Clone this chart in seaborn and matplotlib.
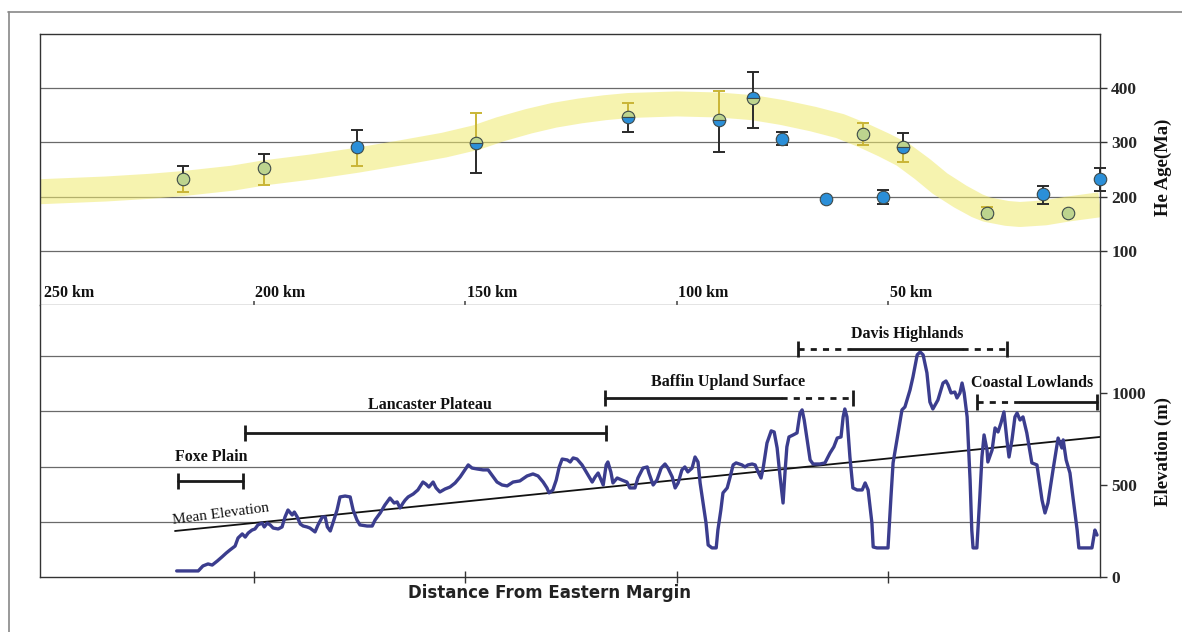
import matplotlib
matplotlib.use("Agg")
import matplotlib.pyplot as plt
from matplotlib.lines import Line2D
import pandas as pd
import seaborn as sns

# ---------------- data ----------------
# He ages (upper panel)
age_km = [216.7, 197.5, 175.6, 147.4, 111.5, 90.0, 82.0, 75.1, 64.7, 56.0, 51.3, 46.6, 26.7, 13.5, 7.6, 0.0]
age_ma = [233, 252, 291, 298, 346, 341, 381, 307, 196, 315, 200, 291, 170, 204, 170, 233]
age_hi = [256, 278, 322, 354, 372, 394, 430, 319, 196, 335, 213, 317, 180, 219, 170, 252]
age_lo = [209, 222, 257, 244, 319, 283, 326, 296, 196, 296, 187, 263, 161, 187, 170, 211]
age_kind = ['g', 'g', 'b', 'gb', 'gb', 'gb', 'bg', 'b', 'b', 'g', 'b', 'gb', 'g', 'b', 'g', 'b']
err_up_col = ['k', 'k', 'k', 'y', 'y', 'y', 'k', 'k', 'k', 'y', 'k', 'k', 'y', 'k', 'k', 'k']
err_lo_col = ['y', 'y', 'y', 'k', 'k', 'k', 'k', 'k', 'k', 'y', 'k', 'y', 'y', 'k', 'k', 'k']

# yellow trend band (centre line)
band_km = [250.5, 235.0, 224.5, 216.7, 205.0, 197.3, 186.0, 175.6, 165.0, 155.0, 147.4, 141.8,
           135.0, 129.0, 122.9, 117.0, 111.5, 100.0, 90.0, 82.0, 75.0, 67.8, 61.4, 56.0,
           51.0, 46.5, 42.0, 37.8, 33.0, 29.0, 26.7, 22.0, 18.9, 13.0, 7.6, 0.0]
band_ma = [209, 214, 219, 224, 234, 244, 255, 267, 281, 295, 309, 324,
           339, 350, 358, 364, 368, 371, 369, 364, 355, 343, 330, 313,
           295, 277, 251, 224, 200, 183, 176, 169, 167, 170, 177, 185]

# elevation profile (lower panel)
prof_km = [218.2, 213.1, 212.0, 210.8, 209.8, 208.6, 207.5, 206.5, 205.6, 204.4,
           203.7, 202.7, 202.0, 201.3, 200.4, 199.7, 199.0, 198.0, 197.5, 196.8,
           196.1, 195.4, 194.2, 193.3, 192.6, 191.9, 190.9, 190.4, 189.7, 189.0,
           188.3, 187.4, 186.7, 185.5, 184.8, 183.8, 183.1, 182.6, 181.9, 181.2,
           180.3, 179.6, 178.4, 177.2, 176.5, 175.6, 174.9, 173.2, 172.0, 171.3,
           170.1, 169.0, 167.8, 166.8, 166.1, 165.4, 164.7, 164.2, 163.5, 162.3,
           161.2, 160.0, 159.3, 158.6, 157.6, 156.9, 156.0, 154.8, 153.6, 152.4,
           151.2, 150.1, 149.3, 148.4, 147.2, 145.8, 144.6, 143.7, 142.5, 141.3,
           140.1, 138.7, 137.1, 135.4, 134.0, 132.8, 131.6, 130.7, 130.2, 129.3,
           128.5, 127.8, 127.1, 125.9, 125.2, 124.5, 123.6, 122.4, 121.7, 121.0,
           120.0, 119.3, 118.6, 117.9, 117.4, 116.7, 116.3, 115.6, 115.1, 114.1,
           113.0, 111.8, 111.1, 109.9, 109.2, 108.0, 107.0, 106.6, 105.6, 104.7,
           103.7, 102.8, 102.1, 101.1, 100.4, 99.7, 98.8, 98.1, 97.4, 96.4,
           95.7, 95.0, 94.5, 93.8, 93.1, 92.6, 91.7, 90.7, 90.3, 89.6,
           89.1, 88.1, 87.4, 86.7, 86.0, 84.6, 83.9, 83.2, 82.2, 81.5,
           80.8, 80.1, 79.6, 78.7, 77.7, 77.0, 76.3, 75.6, 74.9, 74.4,
           74.0, 73.5, 72.5, 71.6, 70.9, 70.4, 69.9, 69.2, 68.5, 67.8,
           66.2, 65.0, 63.8, 62.9, 62.1, 61.2, 60.7, 60.3, 59.8, 59.1,
           58.4, 57.4, 56.2, 55.5, 54.8, 53.9, 53.6, 52.7, 50.1, 49.4,
           48.9, 48.0, 46.8, 46.1, 44.9, 44.2, 43.2, 42.5, 41.8, 40.9,
           40.2, 39.5, 38.3, 37.1, 36.4, 35.9, 35.2, 34.3, 33.8, 33.1,
           32.6, 32.1, 31.4, 30.7, 30.3, 30.0, 29.1, 28.4, 27.9, 27.4,
           26.7, 26.5, 25.5, 24.8, 24.1, 23.4, 22.7, 22.0, 21.5, 20.8,
           20.1, 19.6, 18.9, 18.2, 17.3, 16.1, 14.9, 13.7, 13.0, 12.3,
           11.1, 9.9, 9.0, 8.7, 8.0, 7.1, 6.4, 5.4, 5.0, 1.9,
           1.2, 0.7]
prof_m = [33, 33, 60, 71, 65, 87, 109, 130, 147, 168,
          212, 234, 217, 239, 255, 261, 283, 293, 272, 293,
          283, 266, 261, 272, 326, 364, 337, 353, 326, 288,
          277, 272, 266, 245, 283, 326, 326, 272, 250, 299,
          364, 435, 440, 435, 364, 310, 283, 277, 277, 310,
          348, 391, 429, 402, 408, 375, 402, 418, 435, 451,
          473, 516, 505, 489, 516, 484, 462, 478, 489, 511,
          544, 582, 609, 592, 587, 582, 582, 554, 516, 500,
          495, 516, 522, 549, 560, 549, 516, 484, 457, 473,
          527, 598, 641, 636, 625, 647, 641, 609, 582, 554,
          516, 544, 565, 527, 500, 609, 625, 571, 511, 538,
          527, 516, 484, 484, 538, 592, 598, 565, 500, 527,
          592, 614, 592, 544, 484, 511, 582, 598, 571, 592,
          652, 625, 511, 402, 293, 174, 158, 158, 255, 364,
          457, 484, 544, 609, 620, 609, 598, 609, 614, 609,
          571, 538, 592, 728, 794, 788, 701, 544, 402, 582,
          707, 761, 772, 783, 891, 908, 853, 745, 636, 614,
          614, 620, 674, 707, 755, 761, 870, 913, 870, 652,
          484, 473, 473, 511, 473, 293, 163, 158, 158, 435,
          620, 745, 908, 924, 1016, 1087, 1207, 1223, 1207, 1109,
          951, 913, 962, 1054, 1065, 1044, 1000, 1005, 973, 1000,
          1054, 1000, 870, 527, 255, 158, 158, 435, 652, 772,
          690, 625, 690, 810, 788, 837, 897, 745, 652, 745,
          870, 891, 853, 870, 783, 620, 609, 418, 348, 402,
          582, 755, 701, 745, 636, 565, 435, 255, 158, 158,
          255, 228]

mean_km = [218.6, 0.0]
mean_m = [250, 761]

km_ticks = [250, 200, 150, 100, 50]
km_labels = ["250 km", "200 km", "150 km", "100 km", "50 km"]
age_ticks = [100, 200, 300, 400]
elev_ticks = [0, 500, 1000]

region_names = ["Foxe Plain", "Lancaster Plateau", "Baffin Upland Surface", "Davis Highlands", "Coastal Lowlands"]
region_label_km = [218.6, 158.3, 87.9, 45.6, 16.0]
region_label_m = [650, 935, 1060, 1321, 1054]
region_bar_m = [522, 783, 973, 1239, 951]
region_segments = [
    [(217.9, 202.5, 'solid')],
    [(202.0, 116.7, 'solid')],
    [(116.9, 75.3, 'solid'), (75.3, 58.3, 'dash')],
    [(71.4, 58.8, 'dash'), (58.8, 32.6, 'solid'), (32.6, 21.9, 'dash')],
    [(29.1, 18.9, 'dash'), (18.9, 0.6, 'solid')],
]

# ---------------- figure ----------------
sns.set_theme(style="white")
plt.rcParams['font.family'] = ['Liberation Serif', 'DejaVu Serif']

W, H = 1182, 632
fig = plt.figure(figsize=(W / 100, H / 100), dpi=100)
L, R = 40 / W, 1100 / W
ax_top = fig.add_axes([L, 1 - 305 / H, R - L, (305 - 34) / H])
ax_bot = fig.add_axes([L, 1 - 577 / H, R - L, (577 - 305) / H])

for ax in (ax_top, ax_bot):
    ax.set_xlim(250.5, 0)
    ax.set_facecolor('white')
    for s in ax.spines.values():
        s.set_color('#333333')
        s.set_linewidth(1.0)
    ax.set_xlabel('')
    ax.set_ylabel('')

grid_col = '#6a6a6a'

# ---- upper panel ----
ax_top.set_ylim(0, 500)
sns.lineplot(x=band_km, y=band_ma, ax=ax_top, color='#f0ea6e', alpha=0.55, lw=18,
             solid_capstyle='butt', solid_joinstyle='round', zorder=1, sort=False)

colmap = {'g': '#bdd48e', 'b': '#2b8fd8'}
errmap = {'k': '#2a2a2a', 'y': '#c9b536'}
for i in range(len(age_km)):
    x, y = age_km[i], age_ma[i]
    if age_hi[i] > y:
        ax_top.errorbar([x], [y], yerr=[[0], [age_hi[i] - y]], fmt='none',
                        ecolor=errmap[err_up_col[i]], elinewidth=1.4, capsize=4,
                        capthick=1.4, zorder=3, clip_on=False)
    if age_lo[i] < y:
        ax_top.errorbar([x], [y], yerr=[[y - age_lo[i]], [0]], fmt='none',
                        ecolor=errmap[err_lo_col[i]], elinewidth=1.4, capsize=4,
                        capthick=1.4, zorder=3, clip_on=False)
    k = age_kind[i]
    if len(k) == 1:
        ax_top.plot([x], [y], 'o', ms=9, mfc=colmap[k], mec='#3d4a4a', mew=0.8,
                    zorder=4, clip_on=False)
    else:
        ax_top.plot([x], [y], 'o', ms=9, fillstyle='top', mfc=colmap[k[0]],
                    markerfacecoloralt=colmap[k[1]], mec='#3d4a4a', mew=0.8,
                    zorder=4, clip_on=False)

ax_top.set_yticks(age_ticks)
ax_top.set_yticklabels([str(t) for t in age_ticks])
ax_top.yaxis.tick_right()
ax_top.tick_params(axis='y', which='major', direction='out', length=5, width=1,
                   color='#333333', pad=3, labelsize=12.5)
for lab in ax_top.get_yticklabels():
    lab.set_fontweight('bold')
    lab.set_fontfamily('Liberation Serif')
ax_top.grid(axis='y', color=grid_col, lw=0.9)
ax_top.set_xticks([200, 150, 100, 50])
ax_top.set_xticklabels([])
ax_top.tick_params(axis='x', direction='in', length=3, color='#555555', bottom=True)
ax_top.spines['bottom'].set_color('#777777')

for t, lab in zip(km_ticks, km_labels):
    ax_top.annotate(lab, xy=(t, 0), xytext=(1, 3), textcoords='offset points',
                    ha='left', va='bottom', fontsize=11.5, fontweight='bold',
                    color='#111111')

# ---- lower panel ----
ax_bot.set_ylim(0, 1478)
sns.lineplot(x=mean_km, y=mean_m, ax=ax_bot, color='#111111', lw=1.3, zorder=2, sort=False)
sns.lineplot(x=prof_km, y=prof_m, ax=ax_bot, color='#3b3d8e', lw=2.4, zorder=3,
             sort=False, estimator=None)

ax_bot.set_yticks(elev_ticks)
ax_bot.set_yticklabels([str(t) for t in elev_ticks])
ax_bot.set_yticks([300, 600, 900, 1200], minor=True)
ax_bot.yaxis.tick_right()
ax_bot.tick_params(axis='y', which='major', direction='out', length=5, width=1,
                   color='#333333', pad=3, labelsize=12.5)
ax_bot.tick_params(axis='y', which='minor', length=0)
for lab in ax_bot.get_yticklabels():
    lab.set_fontweight('bold')
    lab.set_fontfamily('Liberation Serif')
ax_bot.grid(axis='y', which='minor', color=grid_col, lw=0.9)
ax_bot.grid(axis='y', which='major', visible=False)
ax_bot.spines['top'].set_visible(False)
ax_bot.set_xticks([200, 150, 100, 50])
ax_bot.set_xticklabels([])
ax_bot.tick_params(axis='x', direction='inout', length=8, width=1, color='#333333', bottom=True)

ax_bot.text(219.0, 272, "Mean Elevation", rotation=7.5, rotation_mode='anchor',
            ha='left', va='bottom', fontsize=11, color='#111111')

for name, lx, ly, by, segs in zip(region_names, region_label_km, region_label_m,
                                  region_bar_m, region_segments):
    ha = 'left' if name == "Foxe Plain" else 'center'
    ax_bot.text(lx, ly, name, ha=ha, va='center', fontsize=11.5, fontweight='bold',
                color='#111111')
    for a, b, style in segs:
        ls = '-' if style == 'solid' else (0, (2.2, 2.2))
        ax_bot.plot([a, b], [by, by], color='#1a1a1a', lw=2.0, ls=ls, zorder=4)
    ends = [segs[0][0], segs[-1][1]]
    ax_bot.plot(ends, [by, by], ls='none', marker='|', ms=11, mew=2.0,
                color='#1a1a1a', zorder=4)

# ---- axis titles ----
fig.text(1163 / W, 1 - 167 / H, "He Age(Ma)", rotation=90, ha='center', va='center',
         fontsize=13.5, fontweight='bold', color='#111111')
fig.text(1163 / W, 1 - 452 / H, "Elevation (m)", rotation=90, ha='center', va='center',
         fontsize=13.5, fontweight='bold', color='#111111')
fig.text(550 / W, 1 - 593 / H, "Distance From Eastern Margin", ha='center', va='center',
         fontsize=12, fontweight='bold', family='DejaVu Sans', color='#222222')

# outer frame of the scanned figure
fig.add_artist(Line2D([8 / W, 1.0], [1 - 12 / H, 1 - 12 / H], transform=fig.transFigure,
                      color='#888888', lw=1.2))
fig.add_artist(Line2D([9 / W, 9 / W], [0.0, 1 - 12 / H], transform=fig.transFigure,
                      color='#888888', lw=1.2))

fig.savefig("out.png", dpi=100)
